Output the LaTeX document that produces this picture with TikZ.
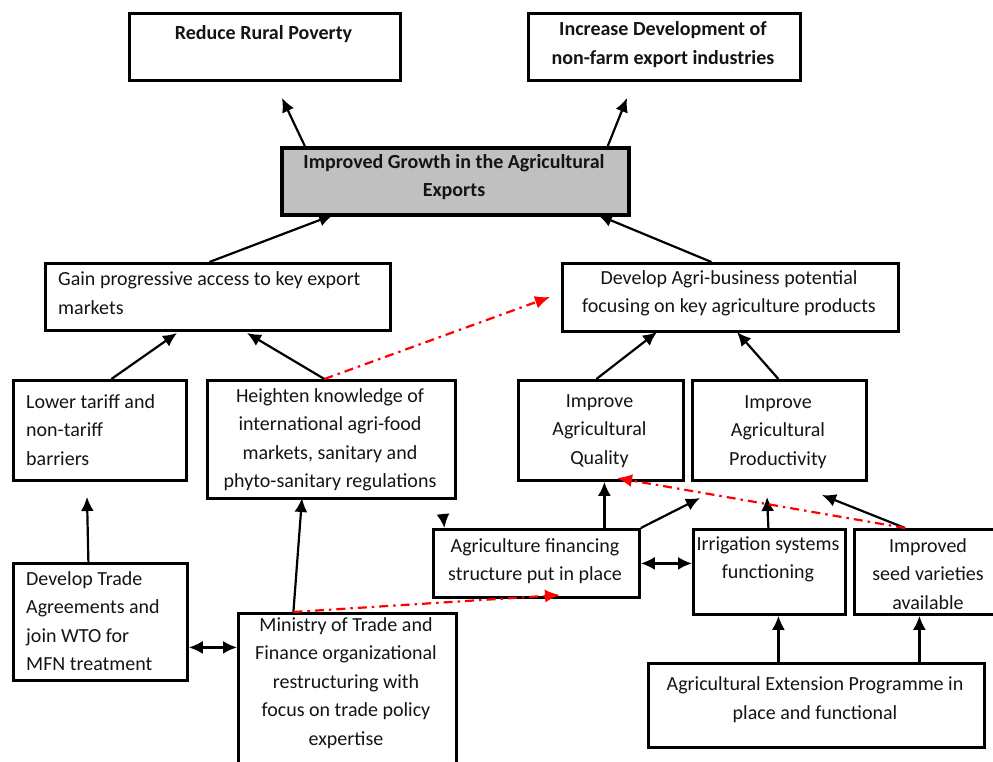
\documentclass[tikz,border=0pt]{standalone}
\usepackage{fontspec}
\setmainfont{Carlito}
\usetikzlibrary{arrows.meta}
\definecolor{boxgray}{HTML}{C0C0C0}
\definecolor{ink}{HTML}{141414}
\begin{document}
\begin{tikzpicture}[x=1pt,y=-1pt,
  box/.style={draw=black, line width=2.8pt, inner sep=0pt, anchor=north west},
  txt/.style={font=\fontsize{20}{28.5}\selectfont, text=ink, align=center, inner sep=0pt},
  ltxt/.style={txt, align=left, anchor=west},
  btxt/.style={txt, font=\bfseries\fontsize{20}{28.5}\selectfont},
  arr/.style={line width=2.2pt, -{Latex[length=14pt,width=13pt]}},
  dbl/.style={line width=2.2pt, {Latex[length=14pt,width=13pt]}-{Latex[length=14pt,width=13pt]}},
  redarr/.style={red, line width=2.2pt, dash pattern=on 9pt off 5pt on 2.5pt off 5pt,
    -{Latex[length=15pt,width=13pt]}}
]
\useasboundingbox (0,0) rectangle (993,761);
\clip (0,0) rectangle (993,761);

% ---- boxes ----
\node[box, minimum width=271, minimum height=67] (rp) at (128,12) {};
\node[box, minimum width=272, minimum height=67] (id) at (527,12) {};
\node[box, fill=boxgray, line width=3.6pt, minimum width=347, minimum height=67] (g) at (280,146) {};
\node[box, minimum width=345, minimum height=67] (ga) at (44,262) {};
\node[box, minimum width=336, minimum height=68] (dv) at (561,262) {};
\node[box, minimum width=173, minimum height=100] (lt) at (12,379) {};
\node[box, minimum width=248, minimum height=118] (hk) at (206,379) {};
\node[box, minimum width=165, minimum height=100] (aq) at (517,379) {};
\node[box, minimum width=174, minimum height=100] (ap) at (691,379) {};
\node[box, minimum width=206, minimum height=68] (fi) at (432,528) {};
\node[box, minimum width=152, minimum height=85] (ir) at (692,528) {};
\node[box, minimum width=160, minimum height=85] (sd) at (853,528) {};
\node[box, minimum width=174, minimum height=117] (dt) at (12,562) {};
\node[box, minimum width=218, minimum height=170] (ms) at (237,612) {};
\node[box, minimum width=336, minimum height=84] (ex) at (647,662) {};

% ---- texts ----
\node[btxt] (trp) at (263.5,34) {Reduce Rural Poverty};
\node[btxt] (tid) at (663,44.5) {Increase Development of\\non-farm export industries};
\node[btxt] (tg) at (454,177) {Improved Growth in the Agricultural\\Exports};
\node[ltxt] (tga) at (58,293) {Gain progressive access to key export\\markets};
\node[txt] (tdv) at (729,293.5) {Develop Agri-business potential\\focusing on key agriculture products};
\node[ltxt] (tlt) at (26,430) {Lower tariff and\\non-tariff\\barriers};
\node[txt] (thk) at (330,440) {Heighten knowledge of\\international agri-food\\markets, sanitary and\\phyto-sanitary regulations};
\node[txt] (taq) at (599.5,431) {Improve\\Agricultural\\Quality};
\node[txt] (tap) at (778,432) {Improve\\Agricultural\\Productivity};
\node[txt] (tfi) at (535,561) {Agriculture financing\\structure put in place};
\node[txt] (tir) at (768,559.5) {Irrigation systems\\functioning};
\node[txt] (tsd) at (928,574) {Improved\\seed varieties\\available};
\node[ltxt] (tdt) at (26,621) {Develop Trade\\Agreements and\\join WTO for\\MFN treatment};
\node[txt] (tms) at (346,683) {Ministry of Trade and\\Finance organizational\\restructuring with\\focus on trade policy\\expertise};
\node[txt] (tex) at (815,699.5) {Agricultural Extension Programme in\\place and functional};

% ---- free arrow tips ----
\coordinate (t1) at (282,98);
\coordinate (t2) at (627,98);
\coordinate (t3) at (333,215);
\coordinate (t4) at (598,215);
\coordinate (t5) at (177,333);
\coordinate (t6) at (247,333);
\coordinate (t7) at (550,297);
\coordinate (t8) at (657,332);
\coordinate (t9) at (737,332);
\coordinate (t10) at (87,497);
\coordinate (t11) at (302,498);
\coordinate (t13) at (560,595);
\coordinate (t15) at (700,498);
\coordinate (t17) at (443,514);
\coordinate (t18) at (767,497);
\coordinate (t19) at (822,495);
\coordinate (t20) at (617,478);

% ---- connectors ----
\draw[arr] ([xshift=-150.5]g.north) -- (t1);
\draw[arr] ([xshift=152.5]g.north) -- (t2);
\draw[arr] ([xshift=-8.5]ga.north) -- (t3);
\draw[arr] ([xshift=-19]dv.north) -- (t4);
\draw[arr] ([xshift=11.5]lt.north) -- (t5);
\draw[arr] ([xshift=-7]hk.north) -- (t6);
\draw[redarr] ([xshift=-7]hk.north) -- (t7);
\draw[arr] ([xshift=-4.5]aq.north) -- (t8);
\draw[arr] ([xshift=-1]ap.north) -- (t9);
\draw[arr] ([xshift=-12]dt.north) -- (t10);
\draw[arr] ([xshift=-54]ms.north) -- (t11);
\coordinate (d1) at ([yshift=-25.5]dt.east);
\draw[dbl] (d1) -- (d1 -| ms.west);
\draw[redarr] ([xshift=-54]ms.north) -- (t13);
\coordinate (f1) at ([xshift=68]fi.north);
\draw[arr] (f1) -- (f1 |- aq.south);
\draw[arr] (fi.north east) -- (t15);
\draw[dbl] (fi.east) -- (fi.east -| ir.west);
\draw[arr] (t17) -- ([xshift=-92]fi.north);
\draw[arr] ([xshift=-1]ir.north) -- (t18);
\draw[arr] ([xshift=52]sd.north west) -- (t19);
\draw[redarr] ([xshift=52]sd.north west) -- (t20);
\coordinate (e1) at ([xshift=-38]ex.north);
\draw[arr] (e1) -- (e1 |- ir.south);
\coordinate (e2) at ([xshift=103]ex.north);
\draw[arr] (e2) -- (e2 |- sd.south);
\end{tikzpicture}
\end{document}
